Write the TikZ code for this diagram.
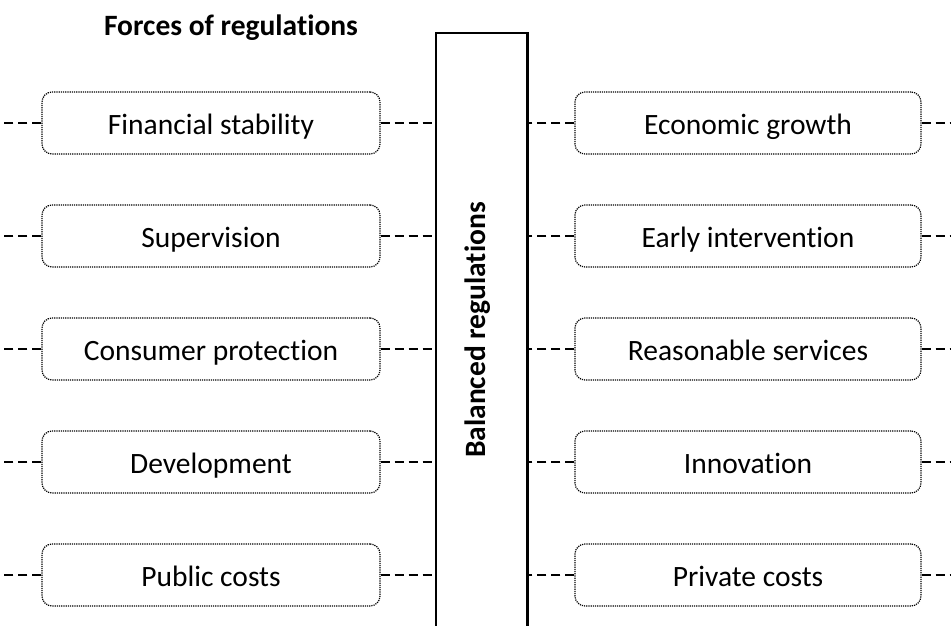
\documentclass[tikz,border=0pt]{standalone}
\usepackage{fontspec}
\setmainfont{Carlito}[Ligatures=NoCommon]
\usepackage{tikz}

\tikzset{
    force/.style={draw, densely dotted, line width=1.2pt, rounded corners=10pt,
        minimum height=62pt, inner sep=0pt, text height=22pt, text depth=0pt,
        font=\fontsize{29.5}{34}\selectfont},
    link/.style={line width=1.5pt, dash pattern=on 9pt off 5pt},
    heading/.style={inner sep=0pt, font=\fontsize{29.5}{34}\selectfont\bfseries}
}

\begin{document}
\begin{tikzpicture}[x=1pt, y=-1pt]
            \useasboundingbox (0,0) rectangle (951,626);

            % title and the bar in the middle
            \node[heading, anchor=base] (title) at (231,36) {Forces of regulations};
            \coordinate (barL) at (436,33);
            \coordinate (barR) at (527.5,33);
            \draw[line width=2.3pt] (barL |- 0,627) -- (barL) -- (barR) -- (barR |- 0,627);
            \node[heading, rotate=90, anchor=base] (bal) at (485,330) {Balanced regulations};

            % left column
            \node[force, minimum width=338pt] (l1) at (211,123) {Financial stability};
            \node[force, minimum width=338pt] (l2) at (211,236) {Supervision};
            \node[force, minimum width=338pt] (l3) at (211,349) {Consumer protection};
            \node[force, minimum width=338pt] (l4) at (211,462) {Development};
            \node[force, minimum width=338pt] (l5) at (211,575) {Public costs};

            % right column
            \node[force, minimum width=346pt] (r1) at (748,123) {Economic growth};
            \node[force, minimum width=346pt] (r2) at (748,236) {Early intervention};
            \node[force, minimum width=346pt] (r3) at (748,349) {Reasonable services};
            \node[force, minimum width=346pt] (r4) at (748,462) {Innovation};
            \node[force, minimum width=346pt] (r5) at (748,575) {Private costs};

            % page edges for the open ends
            \coordinate (edgeL) at (0,0);
            \coordinate (edgeR) at (951,0);

            \draw[link] (l1.west) -- (l1.west -| edgeL); % l1-edge
            \draw[link] (l2.west) -- (l2.west -| edgeL); % l2-edge
            \draw[link] (l3.west) -- (l3.west -| edgeL); % l3-edge
            \draw[link] (l4.west) -- (l4.west -| edgeL); % l4-edge
            \draw[link] (l5.west) -- (l5.west -| edgeL); % l5-edge

            \draw[link] (l1.east) -- (l1.east -| barL); % l1-bar
            \draw[link] (l2.east) -- (l2.east -| barL); % l2-bar
            \draw[link] (l3.east) -- (l3.east -| barL); % l3-bar
            \draw[link] (l4.east) -- (l4.east -| barL); % l4-bar
            \draw[link] (l5.east) -- (l5.east -| barL); % l5-bar

            \draw[link] (r1.west) -- (r1.west -| barR); % r1-bar
            \draw[link] (r2.west) -- (r2.west -| barR); % r2-bar
            \draw[link] (r3.west) -- (r3.west -| barR); % r3-bar
            \draw[link] (r4.west) -- (r4.west -| barR); % r4-bar
            \draw[link] (r5.west) -- (r5.west -| barR); % r5-bar

            \draw[link] (r1.east) -- (r1.east -| edgeR); % r1-edge
            \draw[link] (r2.east) -- (r2.east -| edgeR); % r2-edge
            \draw[link] (r3.east) -- (r3.east -| edgeR); % r3-edge
            \draw[link] (r4.east) -- (r4.east -| edgeR); % r4-edge
            \draw[link] (r5.east) -- (r5.east -| edgeR); % r5-edge
        \end{tikzpicture}
\end{document}
